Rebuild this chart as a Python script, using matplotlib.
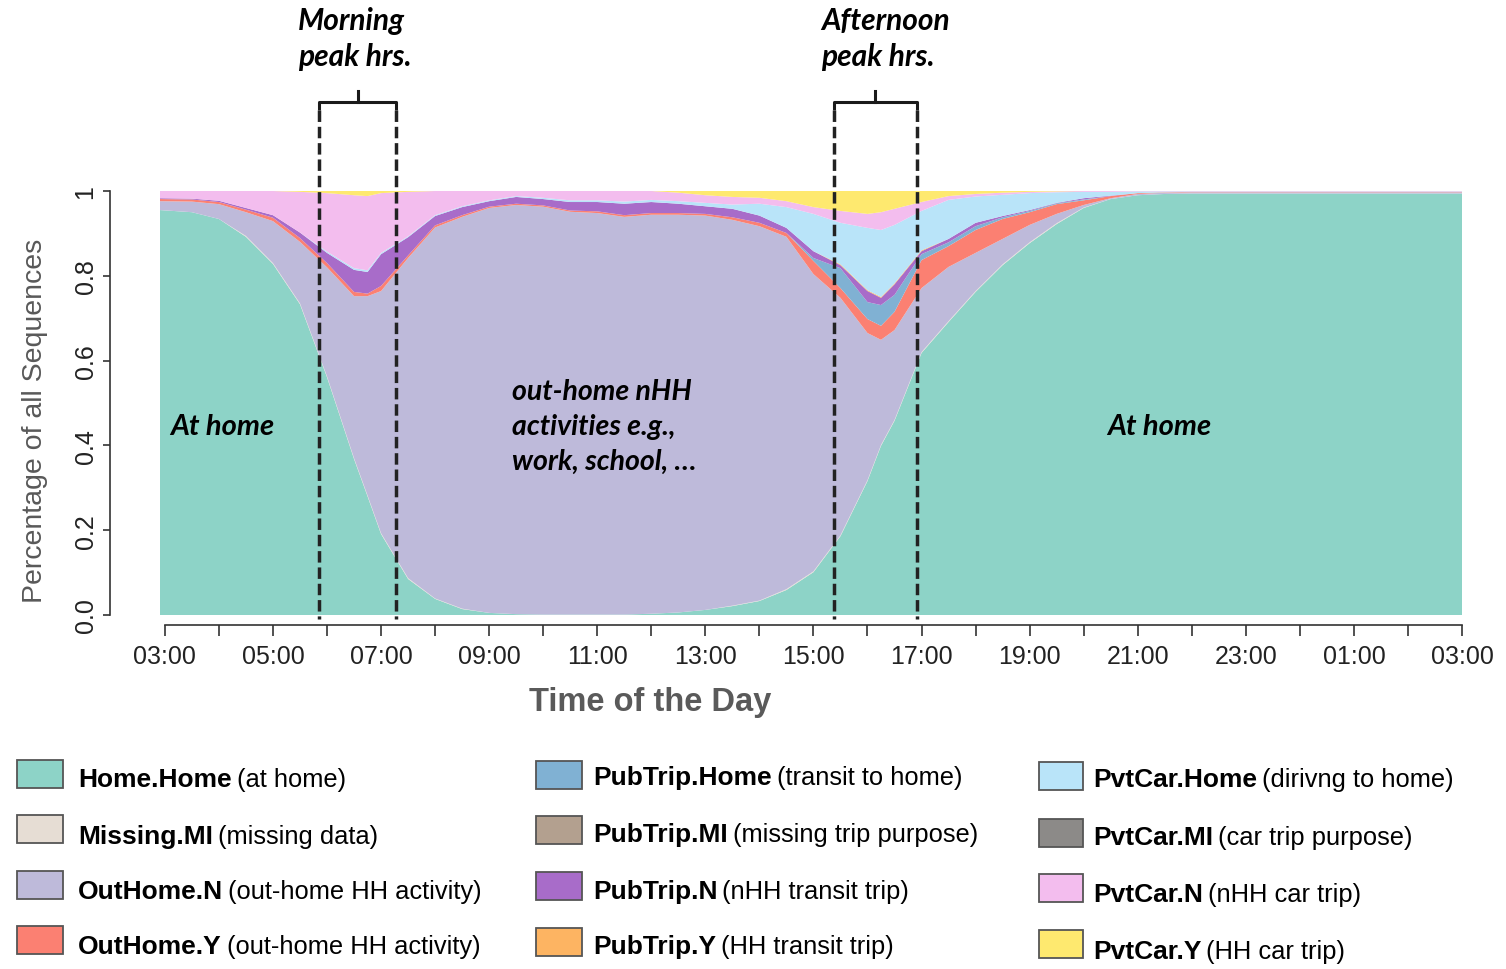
import numpy as np
import matplotlib
matplotlib.use("Agg")
import matplotlib.pyplot as plt
from matplotlib.patches import Rectangle

plt.rcParams['font.family'] = ['Liberation Sans', 'DejaVu Sans']

# ---------------- data ----------------
# time of day in hours (03:00 -> 27:00 = next day 03:00)
times = [2.91, 3.5, 4.0, 4.5, 5.0, 5.5, 6.0, 6.5, 6.75, 7.0, 7.5, 8.0, 8.5, 9.0, 9.5,
         10.0, 10.5, 11.0, 11.5, 12.0, 12.5, 13.0, 13.5, 14.0, 14.5, 15.0, 15.5, 16.0,
         16.25, 16.5, 17.0, 17.5, 18.0, 18.5, 19.0, 19.5, 20.0, 20.5, 21.0, 21.5, 22.0,
         24.0, 27.0]

home_home = [.955, .950, .934, .892, .828, .733, .561, .368, .280, .191, .085, .038, .014, .005, .002,
             .001, .001, .001, .001, .003, .006, .012, .021, .033, .059, .101, .186, .316,
             .399, .458, .618, .691, .762, .825, .877, .922, .960, .981, .990, .993, .994,
             .994, .994]
missing_mi = [0, 0, 0, .002, .002, .002, .002, .002, .002, .002, .002, .001, .001, 0, 0,
              0, 0, 0, 0, 0, 0, 0, .001, .001, .002, .002, .002, .002,
              .002, .002, .002, .002, .002, .002, .002, .002, .001, 0, 0, 0, 0,
              0, 0]
outhome_n = [.021, .025, .035, .056, .099, .145, .257, .382, .470, .571, .755, .875, .924, .955, .965,
             .962, .950, .947, .938, .941, .938, .930, .910, .883, .831, .701, .560, .347,
             .248, .212, .151, .128, .090, .060, .041, .022, .006, .002, .003, .003, .003,
             .003, .003]
outhome_y = [.005, .005, .005, .006, .008, .009, .010, .010, .006, .012, .006, .005, .004, .003, .003,
             .003, .003, .004, .004, .004, .004, .004, .006, .008, .009, .031, .023, .033,
             .033, .043, .066, .049, .054, .047, .030, .023, .011, .005, .002, .001, .001,
             .001, .001]
pubtrip_home = [0, 0, 0, 0, 0, 0, 0, 0, 0, 0, 0, 0, 0, 0, 0,
                0, 0, 0, 0, 0, 0, 0, 0, 0, 0, .007, .047, .040,
                .049, .040, .014, .009, .009, .004, .003, .002, .002, 0, 0, 0, 0,
                0, 0]
pubtrip_mi = [0] * 43
pubtrip_n = [.002, .002, .003, .004, .006, .013, .024, .052, .051, .075, .043, .022, .019, .013, .016,
             .015, .020, .022, .027, .026, .022, .018, .020, .017, .012, .016, .007, .026,
             .017, .025, .007, .008, .008, .003, .002, .001, .003, .001, 0, 0, 0,
             0, 0]
pubtrip_y = [0, 0, 0, 0, 0, 0, 0, 0, 0, 0, 0, 0, 0, 0, 0,
             0, 0, 0, 0, 0, 0, 0, 0, 0, 0, 0, .002, .002,
             .002, .002, .002, 0, 0, 0, 0, 0, 0, 0, 0, 0, 0,
             0, 0]
pvtcar_home = [0, 0, 0, 0, 0, 0, .003, .004, .004, .003, .002, .002, .002, .002, .002,
               .003, .004, .004, .005, .005, .006, .008, .010, .028, .049, .088, .098, .147,
               .158, .138, .093, .092, .062, .050, .040, .025, .015, .009, .004, .002, .001,
               .001, .001]
pvtcar_mi = [0] * 43
pvtcar_n = [.017, .018, .023, .040, .057, .096, .138, .172, .175, .141, .105, .057, .036, .022, .012,
            .016, .022, .022, .025, .021, .020, .018, .018, .014, .014, .016, .028, .033,
            .042, .038, .021, .009, .006, .005, .003, .002, .002, .002, .001, .001, .001,
            .001, .001]
pvtcar_y = [0, 0, 0, 0, 0, .002, .005, .010, .012, .005, .002, 0, 0, 0, 0,
            0, 0, 0, 0, 0, .004, .010, .014, .016, .024, .038, .047, .054,
            .050, .042, .026, .012, .007, .004, .002, .001, 0, 0, 0, 0, 0,
            0, 0]

state_names = ["Home.Home", "Missing.MI", "OutHome.N", "OutHome.Y",
               "PubTrip.Home", "PubTrip.MI", "PubTrip.N", "PubTrip.Y",
               "PvtCar.Home", "PvtCar.MI", "PvtCar.N", "PvtCar.Y"]
state_desc = ["(at home)", "(missing data)", "(out-home HH activity)", "(out-home HH activity)",
              "(transit to home)", "(missing trip purpose)", "(nHH transit trip)", "(HH transit trip)",
              "(dirivng to home)", "(car trip purpose)", "(nHH car trip)", "(HH car trip)"]
state_colors = ["#8DD3C7", "#E6DDD4", "#BEBADA", "#FB8072",
                "#80B1D3", "#B3A08F", "#A86CC9", "#FDB462",
                "#B9E4F9", "#8C8A88", "#F3BDEE", "#FEE96F"]

tick_hours = list(range(3, 28))
tick_labels = ["03:00", "05:00", "07:00", "09:00", "11:00", "13:00", "15:00",
               "17:00", "19:00", "21:00", "23:00", "01:00", "03:00"]

morning_peak = (5.86, 7.28)
afternoon_peak = (15.38, 16.91)

layers = np.array([home_home, missing_mi, outhome_n, outhome_y, pubtrip_home, pubtrip_mi,
                   pubtrip_n, pubtrip_y, pvtcar_home, pvtcar_mi, pvtcar_n, pvtcar_y], dtype=float)
layers = layers / layers.sum(axis=0)

# ---------------- figure ----------------
W, H = 1506, 970
fig = plt.figure(figsize=(W / 100, H / 100), dpi=100)
fig.patch.set_facecolor("white")

def px_axes(x0, y0, x1, y1):
    return [x0 / W, 1 - y1 / H, (x1 - x0) / W, (y1 - y0) / H]

ax = fig.add_axes(px_axes(160, 192, 1462, 616))
ax.stackplot(times, layers, colors=state_colors, linewidth=0, antialiased=True)
ax.set_xlim(2.91, 26.93)
ax.set_ylim(0, 1)

for s in ["top", "right"]:
    ax.spines[s].set_visible(False)
axis_col = "#333333"
ax.spines["left"].set_position(("outward", 36))
ax.spines["left"].set_bounds(0, 1)
ax.spines["bottom"].set_position(("outward", 7.2))
ax.spines["bottom"].set_bounds(3, 27)
for s in ["left", "bottom"]:
    ax.spines[s].set_linewidth(1.2)
    ax.spines[s].set_color(axis_col)

ax.set_xticks(tick_hours)
ax.set_xticklabels([tick_labels[i // 2] if i % 2 == 0 else "" for i in range(len(tick_hours))])
ax.set_yticks([0, 0.2, 0.4, 0.6, 0.8, 1.0])
ax.set_yticklabels(["0.0", "0.2", "0.4", "0.6", "0.8", "1"])
ax.tick_params(axis="x", length=8, width=1.2, color=axis_col, labelsize=18,
               labelcolor="#222222", pad=6)
ax.tick_params(axis="y", length=5, width=1.2, color=axis_col, labelsize=18,
               labelcolor="#222222", pad=4, labelrotation=90)
for lab in ax.get_yticklabels():
    lab.set_verticalalignment("center")

fig.text(35 / W, 1 - 421 / H, "Percentage of all Sequences", rotation=90,
         ha="center", va="center", fontsize=20.5, color="#595959")
fig.text(650 / W, 1 - 703 / H, "Time of the Day", ha="center", va="center",
         fontsize=23.5, fontweight="bold", color="#5a5a5a")

# ---------------- peak brackets ----------------
anno_font = dict(family=["Lato", "DejaVu Sans"], style="italic", weight="bold", color="black")
lw_b = 2.2
for (x1, x2) in [morning_peak, afternoon_peak]:
    xc = (x1 + x2) / 2
    ax.plot([x1, x1, x2, x2], [1.19, 1.21, 1.21, 1.19], color="#1a1a1a", lw=lw_b,
            clip_on=False, solid_joinstyle="round", solid_capstyle="butt")
    ax.plot([xc, xc], [1.21, 1.235], color="#1a1a1a", lw=lw_b, clip_on=False)
    for xv in (x1, x2):
        ax.plot([xv, xv], [1.19, -0.01], color="#222222", lw=2.5, clip_on=False,
                linestyle=(0, (3.3, 1.4)))

ax.text(5.456, 1.36, "Morning\npeak hrs.", fontsize=21.5, ha="left", va="center",
        linespacing=1.35, clip_on=False, **anno_font)
ax.text(15.14, 1.36, "Afternoon\npeak hrs.", fontsize=21.5, ha="left", va="center",
        linespacing=1.35, clip_on=False, **anno_font)

ax.text(3.1, 0.445, "At home", fontsize=21, ha="left", va="center", **anno_font)
ax.text(20.44, 0.445, "At home", fontsize=21, ha="left", va="center", **anno_font)
ax.text(9.42, 0.445, "out-home nHH\nactivities e.g.,\nwork, school, \u2026", fontsize=20.5,
        ha="left", va="center", linespacing=1.42, **anno_font)

# ---------------- legend (drawn manually) ----------------
lax = fig.add_axes([0, 0, 1, 1])
lax.set_xlim(0, W)
lax.set_ylim(H, 0)
lax.axis("off")
lax.patch.set_alpha(0)

col_patch_x = [17, 536, 1039]
col_patch_w = [46, 46, 44]
col_text_x = [78, 593, 1093]
row_patch_y = [[761, 816, 872, 927], [762, 817, 873, 929], [763, 820, 875, 931]]
row_text_y = [[780, 837, 892, 947], [778, 835, 892, 947], [780, 838, 895, 952]]

fig.canvas.draw()
renderer = fig.canvas.get_renderer()
inv = lax.transData.inverted()
for i, (name, desc, colr) in enumerate(zip(state_names, state_desc, state_colors)):
    c, r = i // 4, i % 4
    lax.add_patch(Rectangle((col_patch_x[c], row_patch_y[c][r]), col_patch_w[c], 28,
                            facecolor=colr, edgecolor="#555555", linewidth=1.3))
    t = lax.text(col_text_x[c], row_text_y[c][r], name, fontsize=19, fontweight="bold",
                 ha="left", va="center", color="black")
    bb = t.get_window_extent(renderer)
    x_end = inv.transform((bb.x1, bb.y0))[0]
    lax.text(x_end + 5, row_text_y[c][r], desc, fontsize=18.4, ha="left", va="center",
             color="black")

fig.savefig("out.png", dpi=100, facecolor="white")
